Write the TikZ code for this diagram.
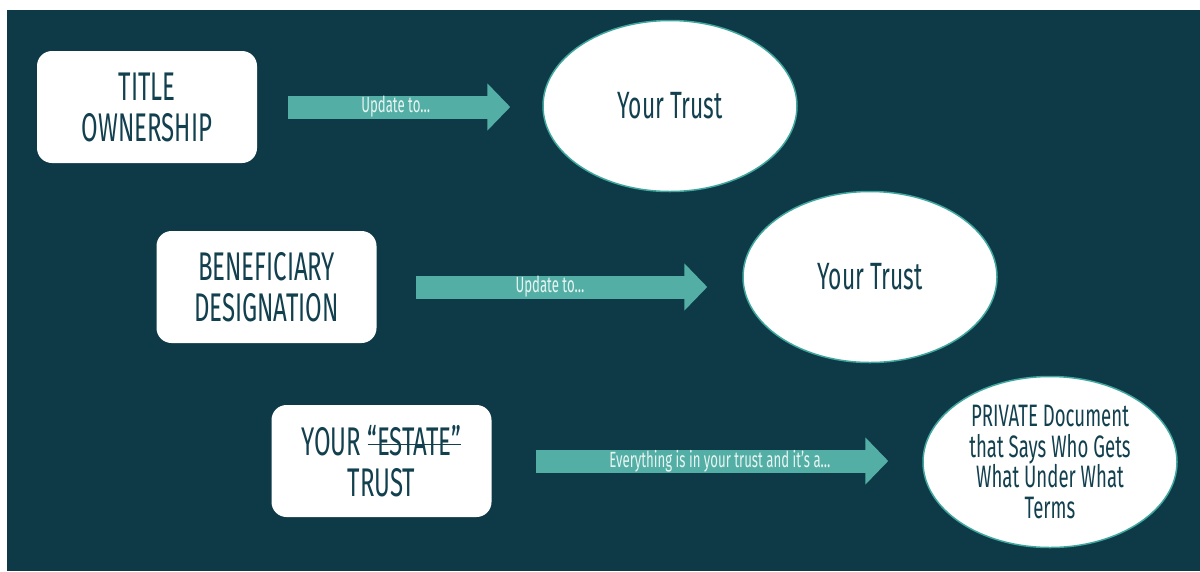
\documentclass[tikz,border=0pt]{standalone}
\usepackage{fontspec}
\setmainfont{Fira Sans}[FakeStretch=0.6]
\usetikzlibrary{arrows.meta,shapes.geometric}
\definecolor{bgteal}{HTML}{0E3A48}
\definecolor{inkteal}{HTML}{12404F}
\definecolor{arrowteal}{HTML}{53AFA6}
\definecolor{rimteal}{HTML}{3FA79E}
\definecolor{labelwhite}{HTML}{E8F4F1}
\newcommand{\struck}[1]{\setbox0=\hbox{#1}\rlap{\rule[10pt]{\wd0}{1.8pt}}\box0}

\begin{document}
\begin{tikzpicture}[x=1pt,y=-1pt,
    box/.style={rectangle,rounded corners=15pt,fill=white,minimum width=220pt,minimum height=112pt,
      align=center,text=inkteal,font=\fontsize{40}{41}\selectfont},
    oval/.style={ellipse,draw=rimteal,line width=1.5pt,fill=white,minimum width=254pt,minimum height=171pt,
      align=center,text=inkteal,font=\fontsize{38}{40}\selectfont},
    fat/.style={arrowteal,line width=23pt,-{Triangle[length=23pt,width=46pt]}},
    tag/.style={text=labelwhite,font=\fontsize{22}{22}\selectfont}]
      \useasboundingbox (0,0) rectangle (1200,571);
      \fill[white] (0,0) rectangle (1200,571);
      \fill[bgteal] (7,10) rectangle (1200,571);
      \node[box] (title) at (147,107) {TITLE\\OWNERSHIP};
      \node[oval] (trust1) at (670,106) {Your Trust};
      \node[box] (benef) at (266.5,287) {BENEFICIARY\\DESIGNATION};
      \node[oval] (trust2) at (870,277) {Your Trust};
      \node[box] (estate) at (381.5,461) {YOUR \struck{“ESTATE”}\\TRUST};
      \node[oval,font=\fontsize{31}{30.5}\selectfont] (private) at (1050,462)
        {PRIVATE Document\\that Says Who Gets\\What Under What\\Terms};
      \draw[fat,shorten <=31pt,shorten >=32pt] (title.east) -- (title.east -| trust1.west)
        node[tag,pos=0.486] {Update to…};
      \draw[fat,shorten <=39pt,shorten >=35pt] (benef.east) -- (benef.east -| trust2.west)
        node[tag,pos=0.474] {Update to…};
      \draw[fat,shorten <=44pt,shorten >=34pt] (estate.east) -- (estate.east -| private.west)
        node[tag,pos=0.53] {Everything is in your trust and it’s a…};
\end{tikzpicture}
\end{document}
